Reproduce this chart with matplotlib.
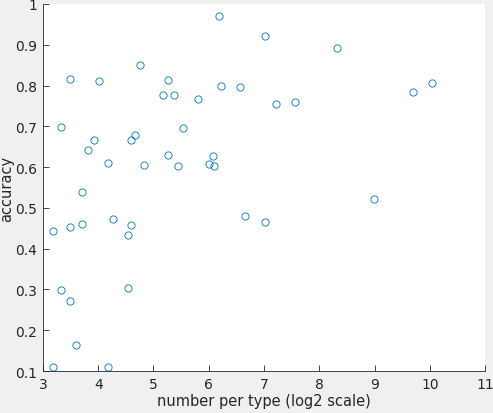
import numpy as np
import matplotlib.pyplot as plt

# number per type (log2) and accuracy
log2_n = [3.33, 3.48, 4.01, 3.92, 3.81, 4.18, 3.71, 4.76, 4.59, 4.66,
          4.82, 5.18, 5.26, 5.37, 5.26, 5.44, 5.53, 5.81, 6.00, 6.08,
          6.10, 6.18, 6.23, 6.56, 7.01, 8.32, 7.21, 7.56, 9.70, 10.04,
          8.99, 3.18, 3.48, 3.71, 4.26, 4.60, 4.53, 3.33, 3.48, 4.53,
          3.60, 3.18, 4.18, 6.66, 7.02]
accuracy = [0.699, 0.817, 0.812, 0.666, 0.642, 0.610, 0.538, 0.851, 0.666, 0.679,
            0.606, 0.776, 0.814, 0.778, 0.630, 0.603, 0.695, 0.767, 0.608, 0.626,
            0.602, 0.971, 0.799, 0.797, 0.921, 0.892, 0.754, 0.759, 0.783, 0.805,
            0.523, 0.444, 0.454, 0.460, 0.473, 0.458, 0.433, 0.299, 0.272, 0.303,
            0.165, 0.111, 0.111, 0.479, 0.465]

xticks = [3, 4, 5, 6, 7, 8, 9, 10, 11]
yticks = [0.1, 0.2, 0.3, 0.4, 0.5, 0.6, 0.7, 0.8, 0.9, 1]

fig = plt.figure(figsize=(4.93, 4.14), dpi=100, facecolor='#f0f0f0')
ax = fig.add_axes([0.0872, 0.1014, 0.8966, 0.8866])
ax.set_facecolor('white')

ax.plot(log2_n, accuracy, linestyle='none', marker='o', markersize=5.2,
        markerfacecolor='none', markeredgecolor='#0072BD', markeredgewidth=0.6)

ax.set_xlim(3, 11)
ax.set_ylim(0.1, 1)
ax.set_xticks(xticks)
ax.set_xticklabels([str(t) for t in xticks])
ax.set_yticks(yticks)
ax.set_yticklabels(['0.1', '0.2', '0.3', '0.4', '0.5', '0.6', '0.7', '0.8', '0.9', '1'])

for side in ['top', 'right']:
    ax.spines[side].set_visible(False)
for side in ['left', 'bottom']:
    ax.spines[side].set_color('#262626')
    ax.spines[side].set_linewidth(0.6)

ax.tick_params(direction='in', length=4, width=0.6, colors='#262626',
               labelsize=10, pad=4)
ax.set_xlabel('number per type (log2 scale)', fontsize=10.5, color='#262626', labelpad=2)
ax.set_ylabel('accuracy', fontsize=10.5, color='#262626', labelpad=1)

fig.savefig('out.png', dpi=100, facecolor=fig.get_facecolor())
